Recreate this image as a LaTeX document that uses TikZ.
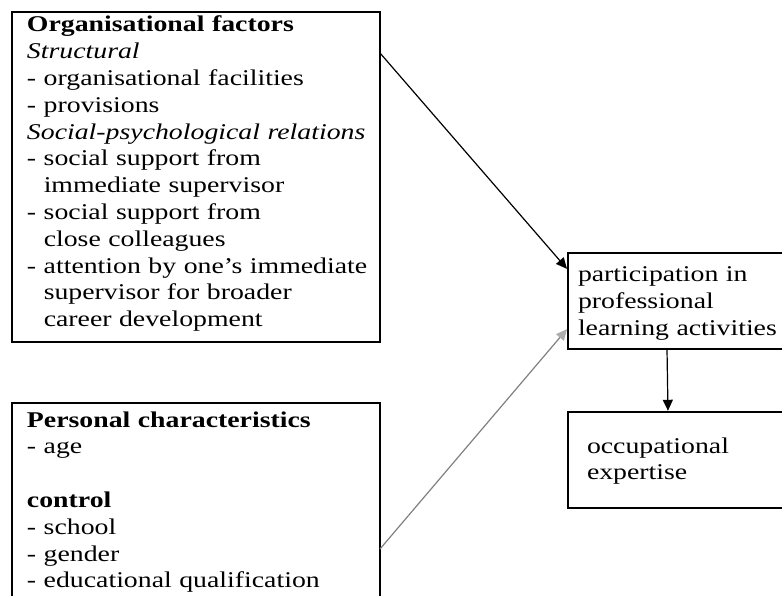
\documentclass[tikz,border=0pt]{standalone}
\usepackage{fontspec}
\setmainfont{Liberation Serif}[FakeStretch=1.235]
\usetikzlibrary{arrows.meta}
\begin{document}
\begin{tikzpicture}[x=1pt,y=-1pt,
  box/.style={draw=black,line width=2.4pt,rectangle,inner sep=0pt,outer sep=0pt,anchor=north west},
  label/.style={anchor=base west,inner sep=0pt,outer sep=0pt,text width=#1,align=left,
    font=\fontsize{22.5pt}{26.8pt}\selectfont},
  link/.style={line width=1.2pt,-{Triangle[length=11pt,width=10pt]}},
  faint/.style={line width=1.2pt,draw=black!50,-{Triangle[length=11pt,width=10pt,color=black!32]}}]
\useasboundingbox (0,0) rectangle (782,596);
\clip (0,0) rectangle (782,596);

% boxes
\node[box,minimum width=368pt,minimum height=330pt] (org) at (12,12) {};
\node[box,minimum width=368pt,minimum height=210pt] (pers) at (12,403) {};
\node[box,minimum width=232pt,minimum height=96pt] (part) at (568,253) {};
\node[box,minimum width=232pt,minimum height=96pt] (occ) at (568,412) {};

% box texts
\node[label=360pt] (orgtext) at (27,32) {\textbf{Organisational factors}\\
\textit{Structural}\\
- organisational facilities\\
- provisions\\
\textit{Social-psychological relations}\\
- social support from\\
\phantom{- }immediate supervisor\\
- social support from\\
\phantom{- }close colleagues\\
- attention by one’s immediate\\
\phantom{- }supervisor for broader\\
\phantom{- }career development};

\node[label=360pt] (perstext) at (27,427) {\textbf{Personal characteristics}\\
- age\\[26.8pt]
\textbf{control}\\
- school\\
- gender\\
- educational qualification};

\node[label=230pt] (parttext) at (578,282) {participation in\\
professional\\
learning activities};

\node[label=220pt] (occtext) at (587,453) {occupational\\
expertise};

% connectors
\coordinate (o1) at ([yshift=-41pt]org.north east);
\coordinate (p1) at ([yshift=-17pt]part.north west);
\coordinate (s1) at ([yshift=-146pt]pers.north east);
\coordinate (p2) at ([yshift=-75pt]part.north west);
\coordinate (p3) at ([xshift=99pt]part.south west);
\coordinate (q3) at ([xshift=100pt]occ.north west);

\draw[link,shorten >=1.5pt] (o1) -- (p1);
\draw[faint,shorten >=1.5pt] (s1) -- (p2);
\draw[link,shorten >=1.2pt] (p3) -- (q3);
\end{tikzpicture}
\end{document}
